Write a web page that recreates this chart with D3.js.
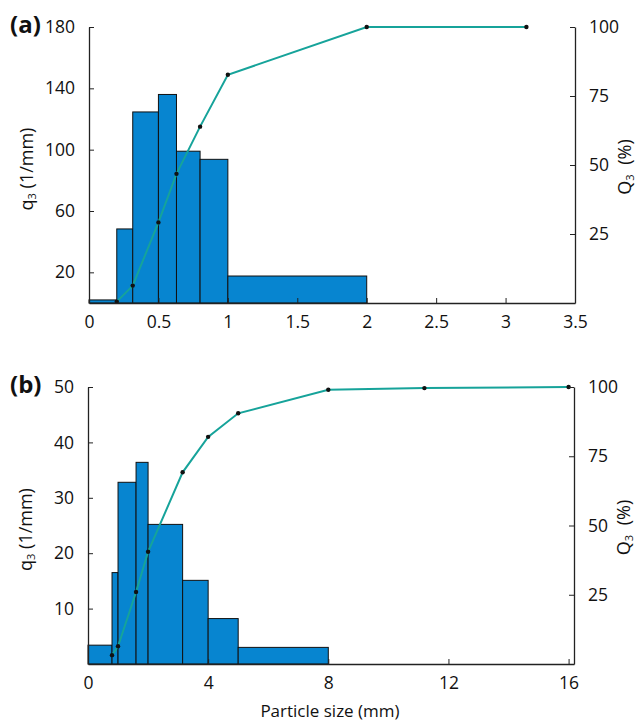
<!DOCTYPE html>
<html>
<head>
<meta charset="utf-8">
<script src="https://cdn.jsdelivr.net/npm/d3@7"></script>
<style>
  body { margin: 0; background: #fff; }
  svg { display: block; }
  text { font-family: "Open Sans", sans-serif; fill: #111; }
</style>
</head>
<body>
<svg id="chart" width="636" height="722"></svg>
<script>
// ---- Data: panel (a) ----
const aEdges = [0, 0.2, 0.315, 0.5, 0.63, 0.8, 1.0, 2.0];
const aQ3dens = [2, 48.3, 124.6, 136, 99, 93.7, 17.6];
const aSizes = [0.2, 0.315, 0.5, 0.63, 0.8, 1.0, 2.0, 3.15];
const aCum = [0.5, 6.3, 29.2, 46.8, 63.9, 82.7, 100, 100];
const aXTicks = [0, 0.5, 1, 1.5, 2, 2.5, 3, 3.5];
const aYTicks = [20, 60, 100, 140, 180];
const aY2Ticks = [25, 50, 75, 100];

// ---- Data: panel (b) ----
const bEdges = [0, 0.8, 1.0, 1.6, 2.0, 3.15, 4, 5, 8];
const bQ3dens = [3.4, 16.5, 32.8, 36.4, 25.2, 15.1, 8.2, 3.0];
const bSizes = [0.8, 1.0, 1.6, 2.0, 3.15, 4, 5, 8, 11.2, 16];
const bCum = [3.2, 6.4, 26, 40.5, 69.2, 82, 90.5, 99, 99.6, 100];
const bXTicks = [0, 4, 8, 12, 16];
const bYTicks = [10, 20, 30, 40, 50];
const bY2Ticks = [25, 50, 75, 100];

const barColor = "#0785d0";
const lineColor = "#16a39a";

const svg = d3.select("#chart");

function panel(cfg) {
  const g = svg.append("g");
  const x = d3.scaleLinear().domain(cfg.xDomain).range([cfg.left, cfg.right]);
  const y = d3.scaleLinear().domain(cfg.yDomain).range([cfg.bottom, cfg.top]);
  const y2 = d3.scaleLinear().domain([0, 100]).range([cfg.bottom, cfg.top]);

  // bars
  const bars = cfg.dens.map((v, i) => ({ x0: cfg.edges[i], x1: cfg.edges[i + 1], v }));
  g.selectAll("rect.bar").data(bars).enter().append("rect")
    .attr("class", "bar")
    .attr("x", d => x(d.x0))
    .attr("width", d => x(d.x1) - x(d.x0))
    .attr("y", d => y(d.v))
    .attr("height", d => y(0) - y(d.v))
    .attr("fill", barColor)
    .attr("stroke", "#111")
    .attr("stroke-width", 1);

  // cumulative line
  const pts = cfg.sizes.map((s, i) => [s, cfg.cum[i]]);
  g.append("path").datum(pts)
    .attr("fill", "none")
    .attr("stroke", lineColor)
    .attr("stroke-width", 2)
    .attr("d", d3.line().x(d => x(d[0])).y(d => y2(d[1])));
  g.selectAll("circle.pt").data(pts).enter().append("circle")
    .attr("cx", d => x(d[0])).attr("cy", d => y2(d[1]))
    .attr("r", 2.2).attr("fill", "#111");

  // axes
  const fs = "17.5px";
  const xAxis = d3.axisBottom(x).tickValues(cfg.xTicks).tickSizeInner(-5).tickSizeOuter(0)
    .tickPadding(13).tickFormat(d3.format("~g"));
  const gx = g.append("g").attr("transform", `translate(0,${cfg.bottom})`).call(xAxis);
  const yAxis = d3.axisLeft(y).tickValues(cfg.yTicks).tickSizeInner(-5).tickSizeOuter(0).tickPadding(14);
  const gy = g.append("g").attr("transform", `translate(${cfg.left},0)`).call(yAxis);
  const y2Axis = d3.axisRight(y2).tickValues(cfg.y2Ticks).tickSizeInner(-5).tickSizeOuter(0).tickPadding(14);
  const gy2 = g.append("g").attr("transform", `translate(${cfg.right},0)`).call(y2Axis);
  [gx, gy, gy2].forEach(a => {
    a.select(".domain").attr("stroke", "#222").attr("stroke-width", 1.3);
    a.selectAll(".tick line").attr("stroke", "#222");
    a.selectAll(".tick text").style("font-family", "'Open Sans', sans-serif")
      .style("font-size", fs).attr("fill", "#111");
  });
  gx.selectAll(".tick text").attr("dy", "0.71em");

  // axis titles
  const midY = (cfg.top + cfg.bottom) / 2;
  const t1 = g.append("text")
    .attr("transform", `translate(${cfg.left - 56},${midY + 4}) rotate(-90)`)
    .attr("text-anchor", "middle").style("font-size", "18px");
  t1.append("tspan").text("q");
  t1.append("tspan").text("3").style("font-size", "11px").attr("dy", "3");
  t1.append("tspan").text(" (1/mm)").attr("dy", "-3");

  const t2 = g.append("text")
    .attr("transform", `translate(${cfg.right + 56},${midY + 2}) rotate(-90)`)
    .attr("text-anchor", "middle").style("font-size", "18px");
  t2.append("tspan").text("Q");
  t2.append("tspan").text("3").style("font-size", "11px").attr("dy", "3");
  t2.append("tspan").text(" (%)").attr("dy", "-3").attr("dx", "5");

  // panel label
  g.append("text").attr("x", 10).attr("y", cfg.top + 6)
    .style("font-size", "24px").style("font-weight", "bold").text(cfg.label);
  return { x };
}

panel({
  label: "(a)", left: 89, right: 575, top: 27, bottom: 303,
  xDomain: [0, 3.5], yDomain: [0, 180],
  edges: aEdges, dens: aQ3dens, sizes: aSizes, cum: aCum,
  xTicks: aXTicks, yTicks: aYTicks, y2Ticks: aY2Ticks
});

panel({
  label: "(b)", left: 88, right: 574, top: 387, bottom: 664,
  xDomain: [0, 16.18], yDomain: [0, 50],
  edges: bEdges, dens: bQ3dens, sizes: bSizes, cum: bCum,
  xTicks: bXTicks, yTicks: bYTicks, y2Ticks: bY2Ticks
});

svg.append("text").attr("x", 330).attr("y", 717)
  .attr("text-anchor", "middle").style("font-size", "17px").text("Particle size (mm)");
</script>
</body>
</html>
